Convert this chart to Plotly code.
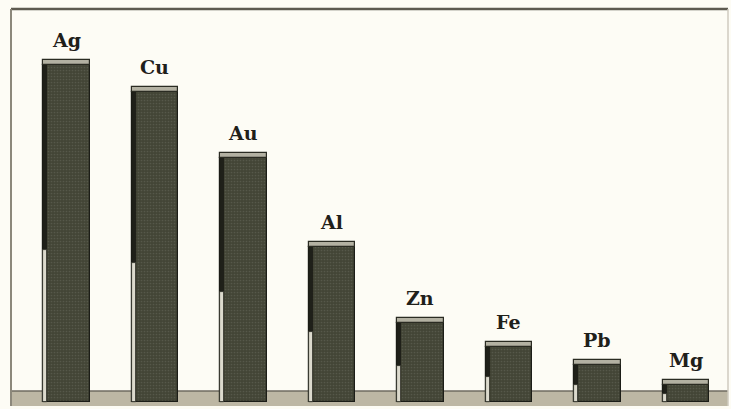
import plotly.graph_objects as go

# Metals and their bar heights (chart units, floor = 0)
metals = ["Ag", "Cu", "Au", "Al", "Zn", "Fe", "Pb", "Mg"]
heights = [342, 315, 249, 160, 84, 60, 42, 22]

CAP = 5          # thickness of the lit top face of each block
BAR_W = 0.53     # block width in category units
EDGE_W = 0.05    # side strip on the left of each block

body = [h - CAP for h in heights]
lit_side = [b * 0.45 for b in body]

fig = go.Figure()

# olive block bodies with a grainy texture
fig.add_trace(go.Bar(
    x=metals, y=body, width=BAR_W, offset=-BAR_W / 2,
    marker=dict(
        color="#474939",
        line=dict(color="#1c1d17", width=1.2),
        pattern=dict(shape=".", size=3, solidity=0.25,
                     fgcolor="#56584a", bgcolor="#434536", fillmode="replace"),
    ),
    hoverinfo="skip", showlegend=False,
))

# shaded left side of each block
fig.add_trace(go.Bar(
    x=metals, y=body, width=EDGE_W, offset=-BAR_W / 2,
    marker=dict(color="#1f2019", line=dict(color="#1a1b15", width=0.8)),
    hoverinfo="skip", showlegend=False,
))

# light catching the lower part of the side
fig.add_trace(go.Bar(
    x=metals, y=lit_side, width=EDGE_W, offset=-BAR_W / 2,
    marker=dict(color="#dcdacd", line=dict(color="#2a2b22", width=0.8)),
    hoverinfo="skip", showlegend=False,
))

# light top face
fig.add_trace(go.Bar(
    x=metals, y=[CAP] * len(metals), base=body, width=BAR_W, offset=-BAR_W / 2,
    marker=dict(color="#b3b1a2", line=dict(color="#2a2b22", width=1.2)),
    hoverinfo="skip", showlegend=False,
))

# metal symbols above the blocks
for m, h in zip(metals, heights):
    fig.add_annotation(
        x=m, y=h, text=m, showarrow=False, yanchor="bottom", yshift=7,
        font=dict(family="DejaVu Serif", size=19, color="#1f201a", weight="bold"),
    )

shapes = [
    # floor band
    dict(type="rect", xref="paper", yref="y", x0=0, x1=1, y0=-4, y1=11,
         fillcolor="#bdb7a4", line=dict(width=0), layer="below"),
    dict(type="line", xref="paper", yref="y", x0=0, x1=1, y0=11, y1=11,
         line=dict(color="#6f6b60", width=1.5), layer="below"),
    # frame
    dict(type="line", xref="paper", yref="paper", x0=0, x1=1, y0=1, y1=1,
         line=dict(color="#5d5a50", width=2.5)),
    dict(type="line", xref="paper", yref="paper", x0=0, x1=0, y0=0, y1=1,
         line=dict(color="#8c887b", width=2)),
    dict(type="line", xref="paper", yref="paper", x0=1, x1=1, y0=0, y1=1,
         line=dict(color="#cfcbbf", width=1.5)),
]

fig.update_layout(
    width=731, height=409,
    margin=dict(l=11, r=3, t=9, b=3),
    paper_bgcolor="#fdfcf5", plot_bgcolor="#fdfcf5",
    barmode="overlay", bargap=0,
    shapes=shapes,
    xaxis=dict(range=[-0.627, 7.475], visible=False, fixedrange=True),
    yaxis=dict(range=[-4, 393], visible=False, fixedrange=True),
)

fig.write_html("out.html")
